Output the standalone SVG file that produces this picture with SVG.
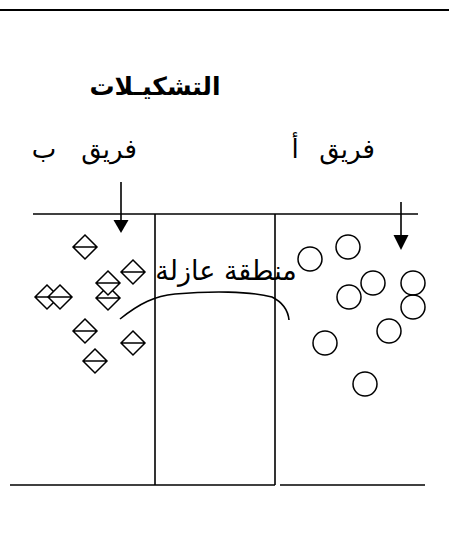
<svg xmlns="http://www.w3.org/2000/svg" width="449" height="550" viewBox="0 0 449 550">
<defs>
<style>
.ln{stroke:#000;stroke-width:1.6;fill:none}
.dm{stroke:#000;stroke-width:1.5;fill:#fff}
.ci{stroke:#000;stroke-width:1.5;fill:none}
.tx{font-family:"DejaVu Sans","Noto Sans",sans-serif;fill:#000}
</style>
<g id="diamond">
<path d="M0,-12 L12,0 L0,12 L-12,0 Z M-12,0 L12,0" class="dm"/>
</g>
</defs>
<rect width="449" height="550" fill="#fff"/>
<line x1="0" y1="10" x2="449" y2="10" stroke="#000" stroke-width="2.2"/>
<g id="title"><text class="tx" x="155" y="95" font-size="25" font-weight="bold" text-anchor="middle">التشكيـلات</text></g>
<g id="team-b-label">
<text class="tx" x="109" y="158" font-size="26" text-anchor="middle">فريق</text>
<text class="tx" x="44" y="158" font-size="26" text-anchor="middle">ب</text>
</g>
<g id="team-a-label">
<text class="tx" x="347" y="158" font-size="26" text-anchor="middle">فريق</text>
<text class="tx" x="295" y="158" font-size="26" text-anchor="middle">أ</text>
</g>
<g id="field">
<line class="ln" x1="33" y1="214" x2="418" y2="214"/>
<line class="ln" x1="155" y1="214" x2="155" y2="485"/>
<line class="ln" x1="275" y1="214" x2="275" y2="485"/>
<line class="ln" x1="10" y1="485" x2="275" y2="485"/>
<line class="ln" x1="280" y1="485" x2="425" y2="485"/>
</g>
<g id="buffer-zone">
<path class="ln" d="M120,319 C140,303 155,296 175,294 C210,291 250,291 272,297 C282,302 288,310 289,320"/>
<text class="tx" x="226" y="280" font-size="27" text-anchor="middle">منطقة عازلة</text>
</g>
<g id="team-b">
<use href="#diamond" x="85" y="247"/>
<use href="#diamond" x="133" y="272"/>
<use href="#diamond" x="108" y="298"/>
<use href="#diamond" x="108" y="283"/>
<use href="#diamond" x="47" y="297"/>
<use href="#diamond" x="60" y="297"/>
<use href="#diamond" x="85" y="331"/>
<use href="#diamond" x="133" y="343"/>
<use href="#diamond" x="95" y="361"/>
</g>
<g id="team-a">
<circle class="ci" cx="310" cy="259" r="12"/>
<circle class="ci" cx="348" cy="247" r="12"/>
<circle class="ci" cx="373" cy="283" r="12"/>
<circle class="ci" cx="349" cy="297" r="12"/>
<circle class="ci" cx="413" cy="283" r="12"/>
<circle class="ci" cx="413" cy="307" r="12"/>
<circle class="ci" cx="389" cy="331" r="12"/>
<circle class="ci" cx="325" cy="343" r="12"/>
<circle class="ci" cx="365" cy="384" r="12"/>
</g>
<g id="connectors">
<line class="ln" x1="121" y1="182" x2="121" y2="221"/>
<path d="M113.5,220 L128.5,220 L121,233 Z" fill="#000"/>
<line class="ln" x1="401" y1="202" x2="401" y2="236"/>
<path d="M393.5,235 L408.5,235 L401,250 Z" fill="#000"/>
</g>
</svg>
